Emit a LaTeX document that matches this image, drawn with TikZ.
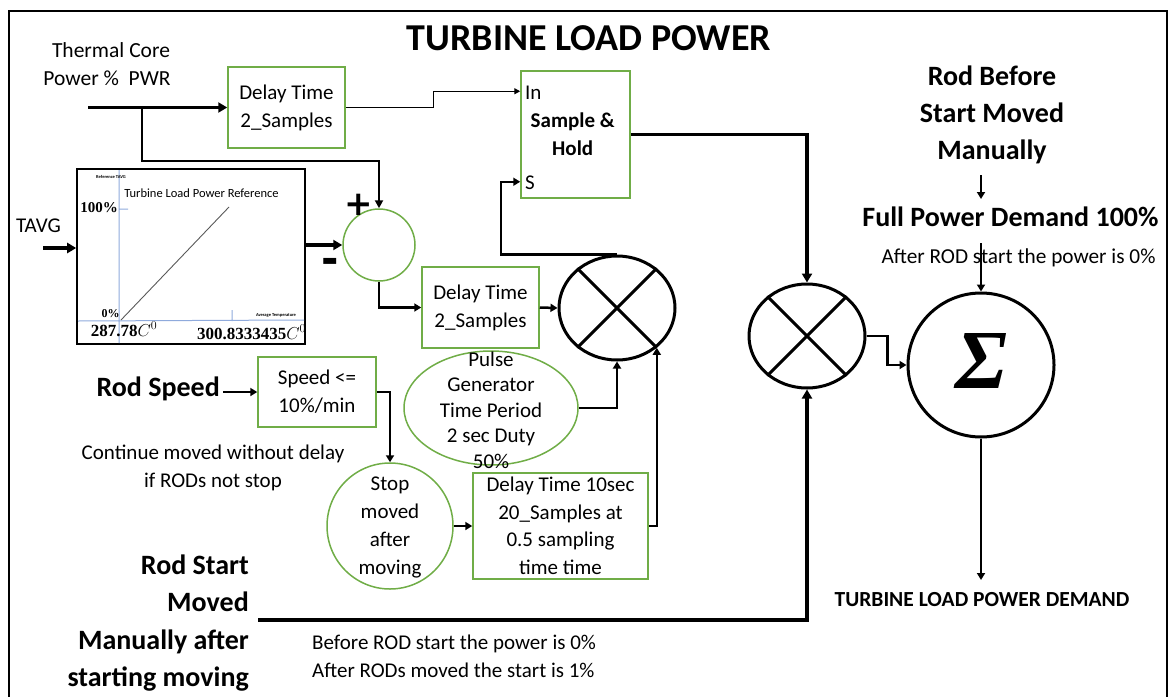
\documentclass[tikz,border=0pt]{standalone}
\usepackage{fontspec}
\setmainfont{Carlito}
\newfontfamily\serifont{Liberation Serif}
\newfontfamily\djv{DejaVu Sans}
\usetikzlibrary{arrows.meta,shapes.geometric,calc}
\definecolor{boxgreen}{RGB}{112,173,71}
\definecolor{axisblue}{RGB}{143,170,220}
\newcommand\fsz[2]{\fontsize{#1}{#2}\selectfont}
\begin{document}
\begin{tikzpicture}[x=1pt,y=-1pt,
  gbox/.style={draw=boxgreen,line width=1.5pt,rectangle,inner sep=0pt,align=center,font=\fsz{21}{28}},
  gring/.style={draw=boxgreen,line width=1.5pt,ellipse,inner sep=0pt},
  bell/.style={draw,line width=3pt,ellipse,inner sep=0pt},
  lbl/.style={inner sep=0pt,align=center,font=\fsz{21}{28}},
  blbl/.style={inner sep=0pt,font=\fsz{28}{37.3}\bfseries},
  thk/.style={line width=3.2pt,-{Triangle[length=9pt,width=10pt]}},
  med/.style={line width=2.5pt,-{Triangle[length=7pt,width=8pt]}},
  thn/.style={line width=1.3pt,-{Triangle[length=6pt,width=6pt]}},
  plain/.style={line width=3pt}]
\useasboundingbox (0,0) rectangle (1172,696);
% frame
\draw[line width=2.5pt] (9,700) -- (9,11) -- (1167,11) -- (1167,700);
% title
\node[inner sep=0pt,font=\fsz{38}{38}\bfseries,anchor=base] (title) at (589,50) {TURBINE LOAD POWER};
% input labels
\node[lbl,anchor=base,font=\fsz{21.5}{28}] (thermal1) at (111,57) {Thermal Core};
\node[lbl,anchor=base,font=\fsz{21.5}{28}] (thermal2) at (107,85) {Power \%\ \ PWR};
\node[lbl,anchor=base] (tavg) at (38.5,232) {TAVG};
\node[blbl,anchor=base east] (rodspeed) at (220,396) {Rod Speed};
\node[lbl,align=center,font=\fsz{21}{28}] (cont) at (213,468) {Continue moved without delay\\if RODs not stop};
\node[blbl,align=right,anchor=east] (rodstart) at (249,623) {Rod Start\\Moved\\Manually after\\starting moving};
\node[lbl,align=left,anchor=west,font=\fsz{21}{28}] (before) at (312,656) {Before ROD start the power is 0\%\\After RODs moved the start is 1\%};
\node[blbl,align=center] (rodbefore) at (992,115) {Rod Before\\Start Moved\\Manually};
\node[inner sep=0pt,font=\fsz{28}{28}\bfseries,anchor=base] (fullpower) at (1010.5,226) {Full Power Demand 100\%};
\node[lbl,anchor=base,font=\fsz{21.3}{28}] (afterrod) at (1018.5,263) {After ROD start the power is 0\%};
\node[inner sep=0pt,font=\fsz{21.5}{21.5}\bfseries,anchor=base] (demand) at (982,606) {TURBINE LOAD POWER DEMAND};
% blocks
\node[gbox,minimum width=117pt,minimum height=81pt] (d1) at (286.5,107.5) {Delay Time\\2\_Samples};
\node[draw=boxgreen,line width=1.5pt,minimum width=109pt,minimum height=127pt,inner sep=0pt] (sh) at (575.5,134.5) {};
\node[lbl,anchor=base west] (shinl) at (525,99) {In};
\node[lbl,font=\fsz{21}{28}\bfseries] (shtext) at (572.7,134.5) {Sample \&\\Hold};
\node[lbl,anchor=base west] (shsl) at (525,189) {S};
\node[gbox,minimum width=117pt,minimum height=81pt] (d2) at (480.5,307.5) {Delay Time\\2\_Samples};
\node[gbox,minimum width=118pt,minimum height=70pt] (speed) at (317,392) {Speed <=\\10\%/min};
\node[gbox,minimum width=175pt,minimum height=106pt,font=\fsz{21}{27.5}] (d10) at (560.5,526) {Delay Time 10sec\\20\_Samples at\\0.5 sampling\\time time};
\node[gring,minimum width=126pt,minimum height=126pt] (stop) at (390,526) {};
\node[lbl] (stoptext) at (390,527) {Stop\\moved\\after\\moving};
\node[gring,minimum width=174pt,minimum height=114pt] (pg) at (491,408) {};
\node[lbl,font=\fsz{21}{25.5}] (pgtext) at (491,410) {Pulse\\Generator\\Time Period\\2 sec Duty\\50\%};
\node[draw=boxgreen,line width=1.5pt,circle,minimum size=72pt,inner sep=0pt] (sum) at (379,245) {};
\node[inner sep=0pt,font=\djv\fsz{34}{34}\bfseries] (plus) at (359,205) {+};
\node[inner sep=0pt,font=\djv\fsz{42}{42}\bfseries] (minus) at (330,266) {-};
\node[bell,minimum width=116pt,minimum height=104pt] (m1) at (617,308) {};
\draw[plain] (m1.45) -- (m1.225) (m1.135) -- (m1.315);
\node[bell,minimum width=116pt,minimum height=104pt] (m2) at (807,336) {};
\draw[plain] (m2.45) -- (m2.225) (m2.135) -- (m2.315);
\node[bell,minimum width=146pt,minimum height=144pt] (sig) at (981,365) {};
\node[inner sep=0pt,font=\serifont\fsz{84}{84}\bfseries\itshape] (sigma) at (981,361) {Σ};
% chart
\node[draw,line width=1.6pt,minimum width=228pt,minimum height=175pt,inner sep=0pt] (chart) at (191,256.5) {};
\draw[axisblue,line width=1pt] (119,170) -- (119,343) (78,321) -- (304,320) (119,209) -- (128,209) (232,310) -- (232,321);
\draw[black!65,line width=0.9pt] (121,320) -- (229,207);
\node[inner sep=0pt,font=\serifont\fsz{15}{15}\bfseries,anchor=base] (p100) at (99,212) {100\%};
\node[inner sep=0pt,font=\serifont\fsz{12}{12}\bfseries,anchor=base] (p0) at (110.5,317) {0\%};
\node[inner sep=0pt,font=\serifont\fsz{17}{17}\bfseries,anchor=base] (t1) at (124,336) {287.78$C^0$};
\node[inner sep=0pt,font=\serifont\fsz{17}{17}\bfseries,anchor=base] (t2) at (251.5,339) {300.8333435$C^0$};
\node[inner sep=0pt,font=\fsz{12.5}{12.5},anchor=base] (ctitle) at (201.5,197) {Turbine Load Power Reference};
\node[inner sep=0pt,font=\fsz{4.5}{4.5}\bfseries,anchor=base] (reftavg) at (111,178) {Reference TAVG};
\node[inner sep=0pt,font=\fsz{4.5}{4.5}\bfseries,anchor=base] (avgtemp) at (276,316) {Average Temperature};
% coordinates
\coordinate (thin) at (88,107.5);
\coordinate (br) at (142,107.5);
\coordinate (tavgin) at (43,248);
\coordinate (rsl) at (258,620);
\coordinate (outc) at (981,580);
\coordinate (fpin) at (981,243);
\coordinate (rbout) at (981,175);
\coordinate (rbin) at (981,199);
\path (sh.north west) ++(0,21) coordinate (shin);
\path (sh.south west) ++(0,-17) coordinate (shs);
% connectors
\draw[thk] (thin) -- (d1.west);
\draw[plain,-{Triangle[length=8pt,width=8pt]},line width=2.8pt] (br) -- ++(0,53.5) -| (sum.north);
\draw[thn] (d1.east) -- ++(88,0) |- (shin);
\draw[thk] (tavgin) -- (tavgin -| chart.west);
\draw[thk] (chart.east |- sum.west) -- (sum.west);
\draw[med] (sum.south) |- (d2.west);
\draw[med] (d2.east) -- (m1.west);
\draw[med] (m1.north) -- ++(-116,0) |- (shs);
\draw[med] (pg.east) -| (m1.south);
\draw[med] (d10.east) -| (m1.315);
\draw[med,line width=2pt] (speed.east) -| (stop.north);
\draw[med] (stop.east) -- (d10.west);
\draw[med] ([xshift=3pt]speed.west -| rodspeed.east) -- (speed.west);
\draw[thk] (rsl) -| (m2.south);
\draw[thk] (sh.east) -| (m2.north);
\draw[med] (m2.east) -- ++(21,0) |- (sig.west);
\draw[med] (sig.south) -- (outc);
\draw[med] (fpin) -- (sig.north);
\draw[med,line width=2pt] (rbout) -- (rbin);
\end{tikzpicture}
\end{document}
